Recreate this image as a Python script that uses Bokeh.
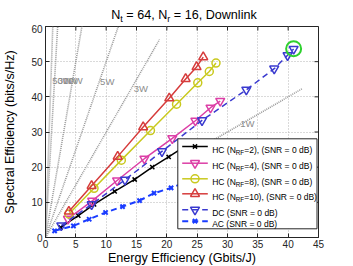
from bokeh.plotting import figure
from bokeh.layouts import column
from bokeh.models import Range1d, FixedTicker
from bokeh.embed import file_html
from bokeh.resources import INLINE
from bokeh.core.properties import value

# ---------------- data ----------------
x_ticks = [0, 5, 10, 15, 20, 25, 30, 35, 40, 45]
y_ticks = [0, 10, 20, 30, 40, 50, 60]

hc2_ee = [2.5, 5.4, 8.0, 11.4, 14.7, 17.6, 20.3, 22.4, 24.0]
hc2_se = [2.9, 6.2, 9.4, 13.1, 16.5, 20.0, 22.9, 25.3, 27.0]

hc4_ee = [3.7, 7.7, 11.8, 16.3, 20.9, 24.7, 27.2, 28.8]
hc4_se = [5.3, 10.4, 16.2, 22.4, 28.2, 33.2, 36.9, 38.8]

hc8_ee = [3.85, 8.0, 12.5, 17.3, 21.6, 25.1, 27.0, 28.1]
hc8_se = [6.7, 14.0, 22.0, 30.4, 37.9, 44.0, 47.2, 49.6]

hc10_ee = [3.85, 7.6, 11.9, 16.1, 20.4, 23.1, 24.9, 26.0]
hc10_se = [7.4, 14.7, 23.0, 31.4, 39.6, 45.1, 48.5, 51.3]

dc_ee = [2.6, 7.6, 13.1, 19.2, 25.8, 33.1, 37.7, 39.9, 40.9]
dc_se = [3.4, 9.4, 16.4, 24.5, 33.3, 42.0, 48.0, 51.8, 53.6]

ac_ee = [1.5, 4.6, 7.2, 9.9, 12.7, 15.5, 17.9, 20.7, 23.0]
ac_se = [1.9, 3.3, 5.2, 7.1, 8.8, 10.5, 12.6, 14.1, 15.6]

best_ee = [40.9]
best_se = [53.7]

# iso-power reference lines
iso_labels = ["1W", "3W", "5W", "10W", "30W", "50W"]
iso_ee_start = [25.0, 0.0, 0.0, 0.0, 0.0, 0.0]
iso_se_start = [25.0, 0.0, 0.0, 0.0, 0.0, 0.0]
iso_ee_end = [42.3, 18.8, 12.4, 6.2, 2.07, 1.24]
iso_se_end = [42.3, 56.3, 62.0, 62.0, 62.0, 62.0]
iso_label_ee = [32.1, 14.55, 9.0, 2.9, 2.0, 1.1]
iso_label_se = [32.5, 42.4, 44.5, 44.7, 44.7, 44.7]

legend_pre = ["HC (N", "HC (N", "HC (N", "HC (N", "DC (SNR = 0 dB)", "AC (SNR = 0 dB)"]
legend_sub = ["RF", "RF", "RF", "RF", "", ""]
legend_post = ["=2), (SNR = 0 dB)", "=4), (SNR = 0 dB)", "=8), (SNR = 0 dB)",
               "=10), (SNR = 0 dB)", "", ""]

# title pieces
title_pieces = ["N", "t", "= 64, N", "r", "= 16, Downlink"]
title_is_sub = [False, True, False, True, False]
title_lead_space = [False, False, True, False, True]

# ---------------- layout helpers (reference pixel -> data) ----------------
FX0, FX1, FY0, FY1 = 45.0, 318.0, 237.0, 26.0
def dx(px):
    return (px - FX0) * 45.0 / (FX1 - FX0)
def dy(py):
    return (FY0 - py) * 60.0 / (FY0 - FY1)

FONT = "Liberation Sans"
AW = {' ': 278, '=': 584, ',': 278, '(': 333, ')': 333, '/': 278, 'N': 722, 't': 278,
      'r': 333, 'D': 722, 'o': 556, 'w': 722, 'n': 556, 'l': 222, 'i': 222, 'k': 500,
      'H': 722, 'C': 722, 'R': 722, 'F': 611, 'S': 667, 'B': 667, 'd': 556, 'A': 667,
      'W': 944, 'b': 556}
def tw(s, size):
    return sum(AW.get(c, 556) for c in s) * size / 1000.0

INK = "#262626"
TITLE_H = 24

# ---------------- title strip (its frame lines up with the chart frame in the column) ----------------
pt = figure(width=353, height=TITLE_H, x_range=Range1d(0, 45), y_range=Range1d(TITLE_H, 0),
            output_backend="svg", toolbar_location=None, min_border=0,
            min_border_left=45, min_border_right=35,
            x_axis_location=None, y_axis_location=None)
pt.outline_line_color = None
pt.grid.visible = False
TS, TSS = 12.6, 9.0
xpx = 110.7
for txt, is_sub, lead in zip(title_pieces, title_is_sub, title_lead_space):
    size = TSS if is_sub else TS
    base = 18.0 if is_sub else 14.5
    if lead:
        xpx += tw(" ", size)
    pt.text(x=[dx(xpx)], y=[base], text=[txt], text_font=value(FONT), text_font_size=f"{size}px",
            text_color="black", text_baseline="alphabetic", text_align="left")
    xpx += tw(txt, size)

# ---------------- main chart ----------------
p = figure(frame_width=273, frame_height=211, x_range=Range1d(0, 45), y_range=Range1d(0, 60),
           output_backend="svg", toolbar_location=None,
           min_border_left=45, min_border_right=35, min_border_top=26 - TITLE_H,
           min_border_bottom=29,
           x_axis_label="Energy Efficiency (Gbits/J)",
           y_axis_label="Spectral Efficiency (bits/s/Hz)")
p.outline_line_color = INK
p.outline_line_width = 1
p.background_fill_color = "white"

for ax, ticks in ((p.xaxis[0], x_ticks), (p.yaxis[0], y_ticks)):
    ax.ticker = FixedTicker(ticks=ticks)
    ax.major_tick_in = 4
    ax.major_tick_out = 0
    ax.minor_tick_line_color = None
    ax.axis_line_color = INK
    ax.major_tick_line_color = INK
    ax.major_label_text_font = FONT
    ax.major_label_text_font_size = "10px"
    ax.major_label_text_color = INK
    ax.axis_label_text_font = FONT
    ax.axis_label_text_font_size = "12.6px"
    ax.axis_label_text_font_style = "normal"
    ax.axis_label_text_color = "black"
p.xaxis[0].major_label_standoff = 2
p.xaxis[0].axis_label_standoff = 0
p.yaxis[0].major_label_standoff = 3
p.yaxis[0].axis_label_standoff = 11

# inward ticks on the top and right edges of the box
tx = 4.0 * 45.0 / 273.0
ty = 4.0 * 60.0 / 211.0
p.segment(x0=x_ticks, x1=x_ticks, y0=[60] * len(x_ticks), y1=[60 - ty] * len(x_ticks),
          line_color=INK, line_width=1)
p.segment(x0=[45] * len(y_ticks), x1=[45 - tx] * len(y_ticks), y0=y_ticks, y1=y_ticks,
          line_color=INK, line_width=1)

for g, ticks in ((p.xgrid[0], x_ticks), (p.ygrid[0], y_ticks)):
    g.ticker = FixedTicker(ticks=ticks)
    g.grid_line_color = "#b4b4b4"
    g.grid_line_dash = "1 2"
    g.grid_line_width = 1

# iso-power dotted lines
for x0, y0, x1, y1 in zip(iso_ee_start, iso_se_start, iso_ee_end, iso_se_end):
    p.line([x0, x1], [y0, y1], line_color="#999999", line_width=1.6, line_dash="1 1")
p.text(x=iso_label_ee, y=iso_label_se, text=iso_labels, text_font=value(FONT),
       text_font_size="9.5px", text_color="#8c8c8c", text_baseline="middle", text_align="left")

series = [
    (hc2_ee, hc2_se, "black", "solid", "x", 6, 1.5),
    (hc4_ee, hc4_se, "#dc3fa6", "solid", "inverted_triangle", 9, 1.5),
    (hc8_ee, hc8_se, "#c9c91e", "solid", "circle", 8, 1.5),
    (hc10_ee, hc10_se, "#d63c3c", "solid", "triangle", 9, 1.5),
    (dc_ee, dc_se, "#3a3acf", "6 4", "inverted_triangle", 9, 1.5),
    (ac_ee, ac_se, "#1a3cff", "6 4", "x", 6, 2.0),
]
for ee, se, col, dash, mk, sz, lw in series:
    p.line(ee, se, line_color=col, line_width=lw, line_dash=dash)
    p.scatter(ee, se, marker=mk, size=sz, line_color=col, fill_color=None, line_width=lw)

p.scatter(best_ee, best_se, marker="circle", size=15, line_color="#2ed12e",
          fill_color=None, line_width=2)

# ---------------- legend (drawn by hand for subscripts) ----------------
p.quad(left=[dx(177.3)], right=[dx(316.5)], top=[dy(138.3)], bottom=[dy(228.3)],
       fill_color="white", line_color=INK, line_width=1, level="overlay")
rows_py = [146.0, 162.7, 178.3, 193.3, 209.3, 220.7]
LS, SS = 8.5, 6.3
for (ee, se, col, dash, mk, sz, lw), ry, pre, sub, post in zip(series, rows_py, legend_pre,
                                                              legend_sub, legend_post):
    p.line([dx(181.7), dx(207.3)], [dy(ry), dy(ry)], line_color=col, line_width=lw,
           line_dash=dash, level="overlay")
    p.scatter([dx(194.5)], [dy(ry)], marker=mk, size=sz, line_color=col, fill_color=None,
              line_width=lw, level="overlay")
    x0 = 211.7
    p.text(x=[dx(x0)], y=[dy(ry + 3.0)], text=[pre], text_font=value(FONT), text_font_size=f"{LS}px",
           text_color="black", text_baseline="alphabetic", text_align="left", level="overlay")
    if sub:
        x1 = x0 + tw(pre, LS)
        p.text(x=[dx(x1)], y=[dy(ry + 5.5)], text=[sub], text_font=value(FONT),
               text_font_size=f"{SS}px", text_color="black", text_baseline="alphabetic",
               text_align="left", level="overlay")
        x2 = x1 + tw(sub, SS)
        p.text(x=[dx(x2)], y=[dy(ry + 3.0)], text=[post], text_font=value(FONT),
               text_font_size=f"{LS}px", text_color="black", text_baseline="alphabetic",
               text_align="left", level="overlay")

layout = column(pt, p, spacing=0)
open("out.html", "w").write(file_html(layout, INLINE))
